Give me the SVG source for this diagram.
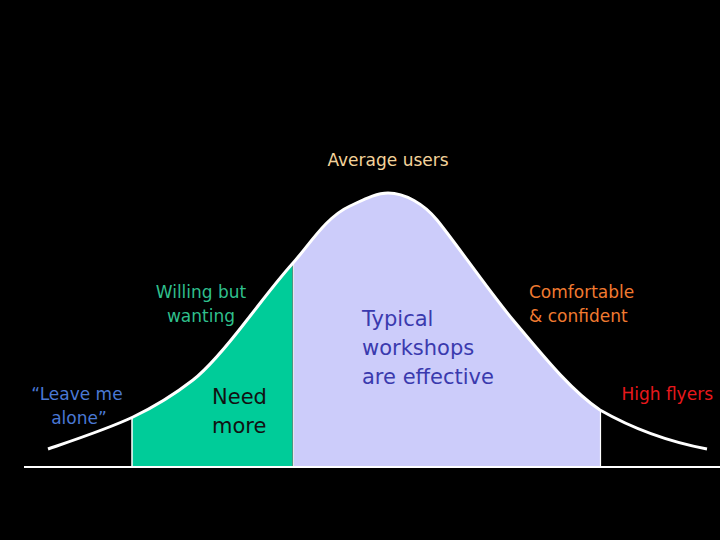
<svg xmlns="http://www.w3.org/2000/svg" width="720" height="540" viewBox="0 0 720 540">
<style>
text{font-family:"DejaVu Sans","Liberation Sans",sans-serif}
.s{font-size:17px}
.l{font-size:21px}
.edge{stroke:#ffffff;fill:none}
</style>
<defs>
<path id="curve" d="M48,449 C80,438 110,428 133,417 C156,406 175,394 193,380 C211,366 230,342 247,320 C262,301 276,282 293,263 C310,244 326,217 350,206 C365,199 376,193 388,193 C405,193 424,204 437,220 C455,242 488,290 513,320 C540,352 570,390 600,410 C635,430 670,442 707,449"/>
<clipPath id="under">
<path d="M48,449 C80,438 110,428 133,417 C156,406 175,394 193,380 C211,366 230,342 247,320 C262,301 276,282 293,263 C310,244 326,217 350,206 C365,199 376,193 388,193 C405,193 424,204 437,220 C455,242 488,290 513,320 C540,352 570,390 600,410 C635,430 670,442 707,449 L707,467 L48,467 Z"/>
</clipPath>
</defs>
<rect width="720" height="540" fill="#000000"/>
<g id="areas" clip-path="url(#under)">
<rect id="green-area" x="132" y="150" width="160.5" height="317" fill="#00cc99"/>
<rect id="lavender-area" x="294" y="150" width="306" height="317" fill="#ccccfa"/>
</g>
<g id="connectors">
<line class="edge" x1="24" y1="467" x2="720" y2="467" stroke-width="2"/>
<line class="edge" x1="132" y1="418" x2="132" y2="467" stroke-width="1.5"/>
<line class="edge" x1="293.3" y1="263" x2="293.3" y2="467" stroke-width="1.2"/>
<line class="edge" x1="600.5" y1="410" x2="600.5" y2="467" stroke-width="1.2"/>
<use href="#curve" class="edge" stroke-width="3"/>
</g>
<g id="average-users"><text class="s" x="388" y="166" text-anchor="middle" fill="#f3d39a">Average users</text></g>
<g id="willing"><text class="s" x="201" y="298" text-anchor="middle" fill="#2fbf8c">Willing but</text><text class="s" x="201" y="322" text-anchor="middle" fill="#2fbf8c">wanting</text></g>
<g id="leave-me-alone"><text class="s" x="77" y="400" text-anchor="middle" fill="#4a78d4">“Leave me</text><text class="s" x="79" y="424" text-anchor="middle" fill="#4a78d4">alone”</text></g>
<g id="need-more"><text class="l" x="212" y="404" fill="#111111">Need</text><text class="l" x="212" y="433" fill="#111111">more</text></g>
<g id="typical"><text class="l" x="362" y="326" fill="#3a3aae">Typical</text><text class="l" x="362" y="355" fill="#3a3aae">workshops</text><text class="l" x="362" y="384" fill="#3a3aae">are effective</text></g>
<g id="comfortable"><text class="s" x="529" y="298" fill="#f07a30">Comfortable</text><text class="s" x="529" y="322" fill="#f07a30">&amp; confident</text></g>
<g id="high-flyers"><text class="s" x="713" y="400" text-anchor="end" fill="#e8181c">High flyers</text></g>
</svg>
